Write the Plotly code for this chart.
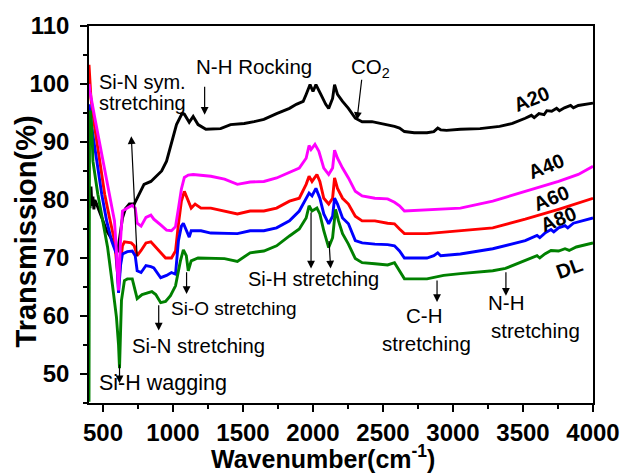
import plotly.graph_objects as go

# ---------------- data ----------------
wn_A20 = [400, 407, 414, 421, 428, 435, 442, 449, 456, 491, 526, 568, 590, 604, 620, 639, 660, 688, 723, 744,
          793, 842, 877, 919, 954, 989, 1025, 1060, 1074, 1081, 1116, 1144, 1179, 1235, 1284, 1340, 1411, 1509,
          1579, 1649, 1740, 1832, 1881, 1930, 1951, 1979, 2000, 2021, 2056, 2091, 2112, 2140, 2154, 2175, 2211,
          2253, 2302, 2351, 2421, 2491, 2582, 2618, 2653, 2723, 2814, 2863, 2891, 2912, 2954, 3053, 3193, 3333,
          3425, 3516, 3560, 3580, 3614, 3650, 3670, 3705, 3740, 3760, 3796, 3840, 3860, 3895, 3950, 4000]
t_A20 = [80.5, 78.6, 82.3, 79.0, 80.6, 78.4, 80.0, 79.4, 79.2, 77.0, 74.7, 73.0, 72.0, 71.0, 73.5, 76.9, 78.5, 79.3, 79.3, 80.3,
         82.7, 83.2, 84.1, 85.0, 86.7, 89.6, 93.0, 94.7, 94.9, 94.8, 93.4, 94.4, 93.0, 92.2, 92.2, 92.3, 93.0, 93.2,
         93.5, 93.9, 94.9, 95.8, 96.5, 97.0, 98.2, 99.9, 98.7, 99.9, 98.2, 96.5, 95.8, 97.5, 99.9, 98.2, 97.0,
         95.8, 94.1, 93.5, 93.5, 93.2, 92.7, 92.4, 91.8, 91.6, 91.6, 91.8, 92.4, 92.1, 92.0, 92.2, 92.3, 92.7,
         93.2, 94.1, 94.6, 94.2, 94.9, 94.7, 95.4, 95.3, 95.8, 95.4, 95.9, 96.3, 95.9, 96.3, 96.5, 96.7]

wn_A40 = [400, 407, 442, 477, 512, 547, 582, 596, 611, 625, 639, 674, 709, 730, 744, 772, 807, 842, 863, 912,
          954, 989, 1018, 1039, 1060, 1081, 1109, 1144, 1179, 1270, 1368, 1460, 1551, 1649, 1740, 1832, 1902,
          1951, 1972, 1986, 2014, 2042, 2077, 2112, 2140, 2154, 2175, 2211, 2253, 2302, 2351, 2442, 2533, 2582,
          2618, 2653, 2814, 3053, 3284, 3516, 3754, 3895, 4000]
t_A40 = [100.0, 98.7, 94.1, 89.6, 85.0, 81.0, 76.4, 71.2, 64.4, 73.0, 78.1, 78.6, 79.1, 78.6, 76.0, 75.5, 77.0, 77.4, 76.7, 75.7,
         74.8, 74.7, 75.4, 78.6, 81.9, 83.9, 84.3, 84.4, 84.3, 84.1, 83.6, 82.7, 83.1, 83.2, 83.8, 84.8, 85.5,
         87.2, 89.4, 88.7, 89.6, 88.4, 85.5, 84.4, 85.5, 88.6, 87.2, 85.5, 83.8, 81.5, 80.7, 80.3, 80.2, 79.6,
         79.0, 78.1, 78.3, 78.6, 79.8, 81.5, 83.2, 84.4, 85.8]

wn_A60 = [400, 407, 414, 428, 442, 477, 512, 547, 582, 596, 611, 625, 639, 653, 702, 723, 744, 772, 807, 842,
          870, 898, 947, 989, 1018, 1039, 1060, 1081, 1095, 1109, 1130, 1158, 1200, 1270, 1368, 1460, 1551, 1649,
          1740, 1832, 1902, 1951, 1972, 1993, 2028, 2049, 2077, 2112, 2140, 2154, 2175, 2211, 2253, 2302, 2351,
          2442, 2533, 2582, 2618, 2653, 2814, 3053, 3284, 3516, 3754, 4000]
t_A60 = [103.3, 100.5, 97.5, 95.0, 92.3, 86.7, 81.0, 76.9, 73.0, 69.5, 65.2, 69.2, 72.1, 72.8, 72.6, 72.1, 70.4, 71.3, 72.6, 72.8,
         72.1, 71.3, 70.0, 70.0, 71.2, 75.9, 79.8, 81.5, 80.7, 79.8, 78.6, 79.3, 78.6, 78.6, 78.1, 77.6, 78.1, 78.1,
         78.6, 79.8, 80.3, 82.7, 84.1, 83.2, 84.4, 83.2, 80.3, 79.3, 80.3, 83.8, 82.0, 80.3, 79.3, 77.2, 76.4,
         76.4, 76.0, 75.9, 75.0, 74.2, 74.2, 74.7, 75.2, 76.7, 78.4, 80.3]

wn_A80 = [400, 421, 456, 491, 526, 561, 596, 611, 625, 639, 674, 709, 730, 744, 772, 807, 842, 863, 912, 954,
          989, 1018, 1039, 1060, 1074, 1102, 1116, 1130, 1158, 1200, 1270, 1368, 1460, 1551, 1649, 1740, 1832,
          1902, 1951, 1972, 1993, 2021, 2049, 2077, 2112, 2140, 2154, 2175, 2211, 2253, 2302, 2351, 2442, 2533,
          2582, 2618, 2653, 2814, 2863, 2891, 2912, 3053, 3284, 3516, 3600, 3620, 3656, 3700, 3720, 3754, 3800,
          3820, 3860, 4000]
t_A80 = [96.5, 92.3, 86.7, 81.0, 76.4, 73.0, 70.7, 64.0, 68.7, 70.7, 71.1, 71.2, 70.4, 67.8, 67.5, 68.7, 68.5, 68.3, 66.6, 67.0,
         67.5, 67.2, 73.0, 75.5, 76.0, 74.2, 73.6, 74.7, 74.7, 74.7, 74.3, 74.3, 74.2, 74.7, 74.7, 75.2, 76.4,
         78.1, 80.3, 81.2, 80.7, 82.0, 80.3, 77.6, 75.9, 77.2, 80.3, 79.3, 76.9, 75.9, 73.0, 72.6, 72.4, 72.3,
         72.1, 71.2, 70.0, 70.0, 70.4, 70.9, 70.4, 70.7, 71.6, 73.0, 73.9, 73.5, 74.3, 74.9, 74.5, 75.2, 75.6,
         75.2, 76.0, 76.9]

wn_DL = [400, 404, 410, 416, 421, 428, 463, 498, 533, 561, 596, 611, 618, 625, 632, 653, 674, 709, 730, 744,
         779, 814, 849, 877, 912, 947, 982, 1018, 1053, 1074, 1095, 1109, 1130, 1179, 1270, 1368, 1460, 1551,
         1649, 1740, 1832, 1902, 1951, 1972, 1993, 2028, 2049, 2077, 2112, 2140, 2161, 2182, 2211, 2253, 2302,
         2351, 2442, 2533, 2582, 2618, 2653, 2814, 2933, 3053, 3284, 3375, 3516, 3600, 3620, 3656, 3700, 3754,
         3800, 3830, 3881, 3920, 4000]
t_DL = [45.2, 95.0, 95.4, 93.8, 92.0, 86.7, 81.0, 76.4, 71.8, 66.6, 59.8, 55.0, 51.0, 57.0, 62.7, 66.1, 66.4, 66.4, 64.4, 63.0,
        63.7, 64.0, 64.2, 63.7, 62.3, 62.5, 63.5, 65.2, 69.5, 71.4, 70.4, 67.8, 69.5, 70.0, 70.0, 69.9, 69.4, 70.9,
        71.2, 72.1, 73.8, 75.0, 76.9, 79.0, 78.1, 78.6, 77.6, 74.7, 71.8, 73.5, 78.4, 76.4, 74.2, 72.4, 69.9,
        69.2, 69.0, 68.8, 69.2, 67.8, 66.4, 66.4, 67.0, 67.3, 67.8, 68.2, 69.5, 70.4, 70.0, 70.7, 71.3, 71.2,
        71.6, 71.3, 71.9, 72.1, 72.6]

series_names = ["A20", "A60", "A80", "DL", "A40"]
series_colors = {"A20": "#000000", "A40": "#FF00FF", "A60": "#FF0000", "A80": "#0000FF", "DL": "#008000"}
series_data = {"A20": (wn_A20, t_A20), "A40": (wn_A40, t_A40), "A60": (wn_A60, t_A60),
               "A80": (wn_A80, t_A80), "DL": (wn_DL, t_DL)}

x_ticks = [500, 1000, 1500, 2000, 2500, 3000, 3500, 4000]
y_ticks = [50, 60, 70, 80, 90, 100, 110]

FONT = "Liberation Sans, Arial, sans-serif"

fig = go.Figure()
for name in series_names:
    wn, t = series_data[name]
    fig.add_trace(go.Scatter(x=wn, y=t, mode="lines", name=name,
                             line=dict(color=series_colors[name], width=2.9),
                             showlegend=False, hoverinfo="skip"))

axis_common = dict(showline=True, linewidth=1.5, linecolor="black", mirror=True,
                   ticks="outside", ticklen=7, tickwidth=1.5, tickcolor="black",
                   showgrid=False, zeroline=False,
                   tickfont=dict(family=FONT, size=24, color="black", weight="bold"))

fig.update_xaxes(range=[400, 4000], tickvals=x_ticks, ticktext=[str(v) for v in x_ticks],
                 minor=dict(ticks="outside", ticklen=4, tickwidth=1.5, tickcolor="black",
                            tick0=250, dtick=250, showgrid=False),
                 **axis_common)
fig.update_yaxes(range=[45, 110], tickvals=y_ticks, ticktext=[str(v) for v in y_ticks],
                 ticklabelstandoff=6,
                 minor=dict(ticks="outside", ticklen=4, tickwidth=1.5, tickcolor="black",
                            tick0=45, dtick=5, showgrid=False),
                 **axis_common)

annotations = []

# axis titles
annotations.append(dict(text="Transmission(%)", xref="paper", yref="paper", x=-0.125, y=0.455,
                        textangle=-90, showarrow=False, xanchor="center", yanchor="middle",
                        font=dict(family=FONT, size=29, color="black", weight="bold")))
annotations.append(dict(text="Wavenumber(cm<sup>-1</sup>)", xref="paper", yref="paper", x=0.465, y=-0.143,
                        showarrow=False, xanchor="center", yanchor="middle",
                        font=dict(family=FONT, size=25, color="black", weight="bold")))

# band labels: (text, x, y, anchor, size)
band_labels = [
    ("Si-N sym.", 456, 100.4, "left", 20),
    ("stretching", 456, 96.8, "left", 20),
    ("N-H Rocking", 1579, 103.1, "center", 20.5),
    ("CO<sub>2</sub>", 2414, 102.8, "center", 20.5),
    ("Si-H stretching", 2000, 66.4, "center", 20),
    ("Si-O stretching", 1433, 61.3, "center", 19),
    ("Si-N stretching", 1180, 54.9, "center", 20.3),
    ("Si-H wagging", 456, 48.4, "left", 21.5),
    ("C-H", 2793, 60.1, "center", 20.5),
    ("stretching", 2814, 55.3, "center", 20.5),
    ("N-H", 3382, 62.3, "center", 20.5),
    ("stretching", 3586, 57.5, "center", 20.5),
]
for txt, x, y, anc, sz in band_labels:
    annotations.append(dict(text=txt, x=x, y=y, xref="x", yref="y", showarrow=False,
                            xanchor=anc, yanchor="middle",
                            font=dict(family=FONT, size=sz, color="black")))

# arrows: (head x, head y, tail x, tail y)
arrows = [
    (702, 91.0, 744, 70.0),
    (1226, 94.7, 1226, 99.8),
    (2314, 93.8, 2349, 101.0),
    (1986, 68.2, 1986, 78.1),
    (2126, 68.2, 2114, 73.2),
    (1097, 63.8, 1097, 67.8),
    (898, 57.5, 898, 62.1),
    (618, 48.4, 618, 51.9),
    (2886, 62.4, 2886, 66.4),
    (3378, 63.5, 3378, 67.8),
]
for hx, hy, tx, ty in arrows:
    annotations.append(dict(text="", x=hx, y=hy, ax=tx, ay=ty, xref="x", yref="y",
                            axref="x", ayref="y", showarrow=True, arrowhead=2,
                            arrowsize=1.3, arrowwidth=1.2, arrowcolor="black", standoff=0))

# series labels
series_label_pos = [
    ("A20", 3558, 97.5, -22),
    ("A40", 3670, 85.8, -22),
    ("A60", 3705, 80.3, -22),
    ("A80", 3754, 76.7, -22),
    ("DL", 3832, 68.3, -20),
]
for txt, x, y, ang in series_label_pos:
    annotations.append(dict(text=txt, x=x, y=y, xref="x", yref="y", showarrow=False,
                            textangle=ang, xanchor="center", yanchor="middle",
                            font=dict(family=FONT, size=20, color="black", weight="bold")))

fig.update_layout(width=632, height=474, margin=dict(l=89, r=30, t=24, b=71),
                  paper_bgcolor="white", plot_bgcolor="white", showlegend=False,
                  font=dict(family=FONT, color="black"), annotations=annotations)

fig.write_html("out.html")
